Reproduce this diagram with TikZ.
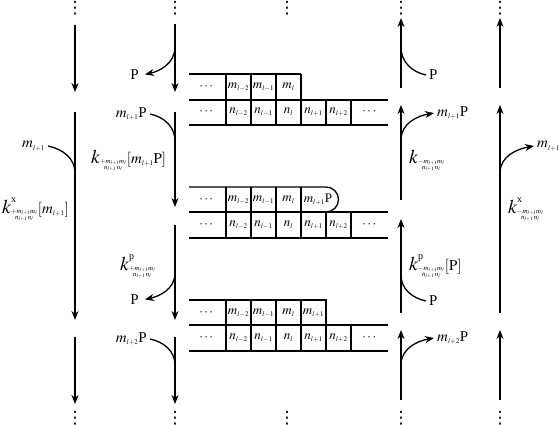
\documentclass[tikz,border=0pt]{standalone}
\usepackage{amsmath}
\usepackage{mathptmx}
\usepackage[no-math]{fontspec}
\setmainfont{Liberation Serif}
\newfontfamily\dotsfont{DejaVu Sans}
\usepackage{tikz}
\usetikzlibrary{arrows.meta}
\DeclareMathSizes{15}{15}{7}{5}
\DeclareMathSizes{13}{13}{7}{5}
\newcommand{\rate}[2]{{\scalebox{1.3}{$k$}}^{\mbox{\fontsize{10}{10}\selectfont #1}}_{\substack{#2 m_{l+1}m_l\\ n_{l+1}\,n_l}}}
\tikzset{
  flow/.style={line width=1.3pt,-{Stealth[length=9pt,width=7pt]}},
  strand/.style={line width=1.3pt},
  grid line/.style={line width=1.3pt},
  lab/.style={font=\fontsize{15}{18}\selectfont,inner sep=3pt},
  rate lab/.style={font=\fontsize{15}{18}\selectfont,inner sep=0pt,anchor=base west},
  cell/.style={font=\fontsize{13}{15}\selectfont,inner sep=0pt},
  more/.style={font=\dotsfont\fontsize{17}{17}\selectfont,inner sep=0pt}
}
\begin{document}
\begin{tikzpicture}[x=1pt,y=-1pt]
  \useasboundingbox (0,0) rectangle (559,425);
  % dots above and below
  \foreach \c/\x in {a/75,b/175,c/287,d/401,e/500} {
    \node[more] (top\c) at (\x,8) {⋮};
    \node[more] (bot\c) at (\x,418.5) {⋮};
  }
  % down columns
  \foreach \n/\x/\ya/\yb in {a1/75/25/92,a2/75/112/320,a3/75/337/404,b1/175/24/92,b2/175/112/207,b3/175/225/320,b4/175/337/404} {
    \coordinate (\n s) at (\x,\ya);
    \coordinate (\n e) at (\x,\yb);
    \draw[flow] (\n s) -- (\n e);
  }
  % up columns
  \foreach \n/\x/\ya/\yb in {d1/401/88/18,d2/401/200/105,d3/401/313/219,d4/401/400/330,e1/500/88/18,e2/500/313/105,e3/500/400/330} {
    \coordinate (\n s) at (\x,\ya);
    \coordinate (\n e) at (\x,\yb);
    \draw[flow] (\n s) -- (\n e);
  }
  % species leaving and joining
  \coordinate (jb1) at (175,47);
  \coordinate (jb2) at (175,141);
  \coordinate (jb3) at (175,273);
  \coordinate (jb4) at (175,365);
  \coordinate (ja2) at (75,173);
  \coordinate (jd1) at (401,47);
  \coordinate (jd2) at (401,140);
  \coordinate (jd3) at (401,275);
  \coordinate (jd4) at (401,365);
  \coordinate (je2) at (500,173);
  \node[lab,anchor=east] (pb1) at (142,75) {P};
  \node[lab,anchor=east] (pb2) at (150,114) {$m_{l+1}$P};
  \node[lab,anchor=east] (pb3) at (142,300) {P};
  \node[lab,anchor=east] (pb4) at (150,339) {$m_{l+2}$P};
  \node[lab,anchor=east] (ma2) at (48,146) {$m_{l+1}$};
  \node[lab,anchor=west] (pd1) at (426,75) {P};
  \node[lab,anchor=west] (pd2) at (434,113) {$m_{l+1}$P};
  \node[lab,anchor=west] (pd3) at (426,301) {P};
  \node[lab,anchor=west] (pd4) at (434,338) {$m_{l+2}$P};
  \node[lab,anchor=west] (me2) at (534,146) {$m_{l+1}$};
  \draw[flow,shorten >=3pt] (jb1) to[out=-90,in=12] (pb1.east);
  \draw[strand] (pb2.east) to[out=-12,in=90] (jb2);
  \draw[flow,shorten >=3pt] (jb3) to[out=-90,in=12] (pb3.east);
  \draw[strand] (pb4.east) to[out=-12,in=90] (jb4);
  \draw[strand] (ma2.east) to[out=-12,in=90] (ja2);
  \draw[strand] (pd1.west) to[out=168,in=-90] (jd1);
  \draw[flow] (jd2) to[out=90,in=190] (pd2.west);
  \draw[strand] (pd3.west) to[out=168,in=-90] (jd3);
  \draw[flow] (jd4) to[out=90,in=190] (pd4.west);
  \draw[flow] (je2) to[out=90,in=190] (me2.west);
  % rates
  \node[rate lab] (ka) at (2,213) {$\rate{x}{+}[m_{l+1}]$};
  \node[rate lab] (kb) at (91,163) {$\rate{}{+}[m_{l+1}\mathrm{P}]$};
  \node[rate lab] (kc) at (120,270) {$\rate{p}{+}$};
  \node[rate lab] (kd) at (409,163) {$\rate{}{-}$};
  \node[rate lab] (ke) at (409,270) {$\rate{p}{-}[\mathrm{P}]$};
  \node[rate lab] (kf) at (508,213) {$\rate{x}{-}$};
  % ribosome tables
  \foreach \t/\y/\ym/\yn in {r/74/100/125,s/187/212/238,u/300/325/351} {
    \coordinate (\t bl) at (189,\ym);
    \coordinate (\t br) at (388,\ym);
    \coordinate (\t cl) at (189,\yn);
    \coordinate (\t cr) at (388,\yn);
    \draw[grid line] (\t bl) -- (\t br);
    \draw[grid line] (\t cl) -- (\t cr);
    \foreach \x in {226,251,276,301} {
      \draw[grid line] (\x,\y) -- (\x,\ym);
    }
    \foreach \x in {226,251,276,301,326,351} {
      \draw[grid line] (\x,\ym) -- (\x,\yn);
    }
    \node[cell] (\t m0) at (207,\y+12.5) {$\cdots$};
    \node[cell] (\t m1) at (238.5,\y+12.5) {$m_{l-2}$};
    \node[cell] (\t m2) at (263.5,\y+12.5) {$m_{l-1}$};
    \node[cell] (\t m3) at (288.5,\y+12.5) {$m_l$};
    \node[cell] (\t n0) at (207,\y+38) {$\cdots$};
    \node[cell] (\t n1) at (238.5,\y+38) {$n_{l-2}$};
    \node[cell] (\t n2) at (263.5,\y+38) {$n_{l-1}$};
    \node[cell] (\t n3) at (288.5,\y+38) {$n_l$};
    \node[cell] (\t n4) at (313.5,\y+38) {$n_{l+1}$};
    \node[cell] (\t n5) at (338.5,\y+38) {$n_{l+2}$};
    \node[cell] (\t n6) at (370,\y+38) {$\cdots$};
  }
  % top edge of each table
  \draw[grid line] (189,74) -- (301,74);
  \draw[grid line] (189,187) -- (326,187) arc[start angle=-90,end angle=90,radius=12.5];
  \draw[grid line] (189,300) -- (326,300) -- (326,325);
  \node[cell] (sm4) at (318,199.5) {$m_{l+1}$P};
  \node[cell] (um4) at (313.5,312.5) {$m_{l+1}$};
\end{tikzpicture}
\end{document}
